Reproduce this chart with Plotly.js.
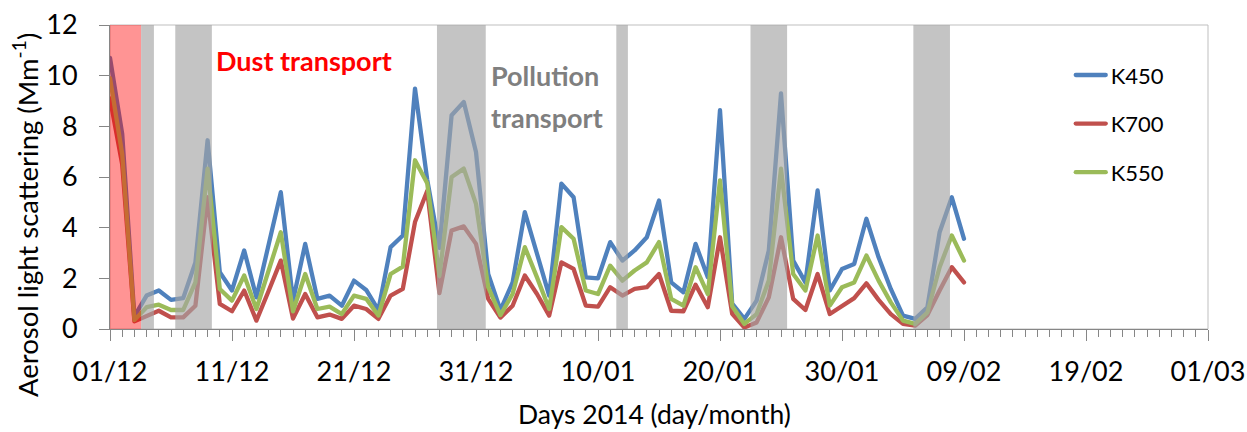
<!DOCTYPE html>
<html>
<head>
<meta charset="utf-8">
<script src="https://cdn.plot.ly/plotly-3.0.1.min.js"></script>
<style>
  html, body { margin: 0; padding: 0; background: #ffffff; }
  #chart { width: 1247px; height: 432px; }
  .scatterlayer .js-line, .legend .js-line { stroke-linejoin: round; stroke-linecap: round; }
</style>
</head>
<body>
<div id="chart"></div>
<script>
// Day index (0 = 01/12/2013)
const days = [];
for (let i = 0; i <= 70; i++) days.push(i);

const k450 = [10.7, 7.7, 0.5, 1.32, 1.52, 1.15, 1.22, 2.63, 7.45, 2.24,
  1.52, 3.1, 1.25, 3.3, 5.4, 1.12, 3.36, 1.19, 1.32, 0.92,
  1.91, 1.54, 0.75, 3.23, 3.69, 9.49, 5.9, 3.2, 8.44, 8.96,
  6.99, 2.17, 0.75, 1.84, 4.61, 2.97, 1.32, 5.74, 5.2, 2.04,
  2.0, 3.43, 2.7, 3.1, 3.62, 5.07, 1.84, 1.45, 3.36, 2.04,
  8.64, 1.0, 0.4, 1.12, 3.1, 9.3, 2.7, 1.84, 5.47, 1.52,
  2.37, 2.57, 4.35, 2.83, 1.58, 0.53, 0.4, 0.86, 3.82, 5.2,
  3.56];

const k700 = [9.1, 6.5, 0.3, 0.53, 0.72, 0.46, 0.46, 0.92, 5.2, 0.99,
  0.7, 1.52, 0.33, 1.5, 2.7, 0.41, 1.38, 0.46, 0.57, 0.4,
  0.92, 0.79, 0.4, 1.32, 1.58, 4.22, 5.45, 1.42, 3.89, 4.05,
  3.36, 1.19, 0.45, 0.92, 2.11, 1.38, 0.53, 2.63, 2.37, 0.92,
  0.88, 1.65, 1.32, 1.58, 1.65, 2.17, 0.72, 0.7, 1.75, 0.86,
  3.62, 0.6, 0.06, 0.26, 1.25, 3.62, 1.19, 0.75, 2.17, 0.59,
  0.92, 1.22, 1.8, 1.15, 0.59, 0.2, 0.13, 0.55, 1.52, 2.44,
  1.84];

const k550 = [9.9, 6.9, 0.35, 0.86, 0.96, 0.75, 0.75, 1.84, 6.33, 1.58,
  1.12, 2.11, 0.79, 2.3, 3.82, 0.7, 2.17, 0.79, 0.88, 0.59,
  1.32, 1.19, 0.53, 2.17, 2.46, 6.66, 5.75, 2.1, 6.0, 6.33,
  4.94, 1.65, 0.55, 1.38, 3.23, 2.04, 0.79, 4.02, 3.56, 1.52,
  1.38, 2.5, 1.91, 2.31, 2.63, 3.43, 1.19, 0.92, 2.44, 1.38,
  5.87, 0.9, 0.2, 0.59, 1.91, 6.33, 2.17, 1.52, 3.69, 0.92,
  1.65, 1.84, 2.9, 1.91, 1.05, 0.33, 0.2, 0.65, 2.44, 3.69,
  2.7];

// Tick labels (every 10 days)
const tickDays = [0, 10, 20, 30, 40, 50, 60, 70, 80, 90];
const tickLabels = ['01/12', '11/12', '21/12', '31/12', '10/01', '20/01', '30/01', '09/02', '19/02', '01/03'];

// Event periods (start day, end day)
const dustStart = [0];
const dustEnd = [2.55];
const pollStart = [2.55, 5.35, 26.8, 41.5, 52.5, 65.85];
const pollEnd = [3.6, 8.35, 30.8, 42.45, 55.5, 68.85];

const FONT = 'Lato, "Open Sans", sans-serif';

const traces = [
  {x: days, y: k450, name: 'K450', mode: 'lines', line: {color: '#4F81BD', width: 4.3}, legendgroup: 'a'},
  {x: days, y: k700, name: 'K700', mode: 'lines', line: {color: '#C0504D', width: 4.3}, legendgroup: 'b'},
  {x: days, y: k550, name: 'K550', mode: 'lines', line: {color: '#9BBB59', width: 4.3}, legendgroup: 'c'}
];

const shapes = [];
for (let i = 0; i < dustStart.length; i++) {
  shapes.push({type: 'rect', xref: 'x', yref: 'paper', x0: dustStart[i], x1: dustEnd[i], y0: 0, y1: 1,
    fillcolor: 'rgb(255,0,0)', opacity: 0.42, line: {width: 0}, layer: 'above'});
}
for (let i = 0; i < pollStart.length; i++) {
  shapes.push({type: 'rect', xref: 'x', yref: 'paper', x0: pollStart[i], x1: pollEnd[i], y0: 0, y1: 1,
    fillcolor: 'rgb(165,165,165)', opacity: 0.65, line: {width: 0}, layer: 'above'});
}
// plot frame
shapes.push({type: 'rect', xref: 'paper', yref: 'paper', x0: 0, x1: 1, y0: 0, y1: 1,
  line: {color: '#BFBFBF', width: 1}, fillcolor: 'rgba(0,0,0,0)', layer: 'below'});

const layout = {
  width: 1247, height: 432,
  margin: {l: 110, r: 39, t: 25, b: 103},
  paper_bgcolor: '#ffffff', plot_bgcolor: '#ffffff',
  font: {family: FONT, color: '#000000'},
  showlegend: true,
  legend: {x: 0.875, y: 0.904, xanchor: 'left', yanchor: 'top', font: {size: 22, family: FONT},
    tracegroupgap: 17, bgcolor: 'rgba(0,0,0,0)'},
  xaxis: {
    range: [0, 90], tickmode: 'array', tickvals: tickDays, ticktext: tickLabels,
    ticks: 'outside', ticklen: 11, tickcolor: '#868686', tickwidth: 1,
    showline: true, linecolor: '#868686', linewidth: 1,
    showgrid: false, zeroline: false,
    minor: {dtick: 1, tick0: 0, ticks: 'outside', ticklen: 7, tickcolor: '#868686', showgrid: false},
    tickfont: {size: 27, family: FONT, color: '#000000'},
    ticklabelstandoff: 8
  },
  yaxis: {
    range: [0, 12], dtick: 2, tick0: 0,
    ticks: 'outside', ticklen: 10, tickcolor: '#868686', tickwidth: 1,
    showline: true, linecolor: '#868686', linewidth: 1,
    showgrid: false, zeroline: false,
    tickfont: {size: 27, family: FONT, color: '#000000'},
    ticklabelstandoff: 16
  },
  shapes: shapes,
  annotations: [
    {text: 'Dust transport', xref: 'x', yref: 'y', x: 15.9, y: 10.6, xanchor: 'center', yanchor: 'middle',
     showarrow: false, font: {family: FONT, size: 27, color: '#FF0000', weight: 'bold'}},
    {text: 'Pollution', xref: 'x', yref: 'y', x: 31.05, y: 10.0, xanchor: 'left', yanchor: 'middle',
     showarrow: false, font: {family: FONT, size: 27, color: '#7F7F7F', weight: 'bold'}},
    {text: 'transport', xref: 'x', yref: 'y', x: 31.05, y: 8.35, xanchor: 'left', yanchor: 'middle',
     showarrow: false, font: {family: FONT, size: 27, color: '#7F7F7F', weight: 'bold'}},
    {text: 'Aerosol light scattering (Mm<sup>-1</sup>)', xref: 'paper', yref: 'paper',
     x: -0.0774, y: 0.375, xanchor: 'center', yanchor: 'middle', textangle: -90,
     showarrow: false, font: {family: FONT, size: 27.5, color: '#000000'}},
    {text: 'Days 2014 (day/month)', xref: 'paper', yref: 'paper',
     x: 0.496, y: -0.222, xanchor: 'center', yanchor: 'top',
     showarrow: false, font: {family: FONT, size: 26.5, color: '#000000'}}
  ]
};

Plotly.newPlot('chart', traces, layout, {displayModeBar: false, staticPlot: true});
</script>
</body>
</html>
